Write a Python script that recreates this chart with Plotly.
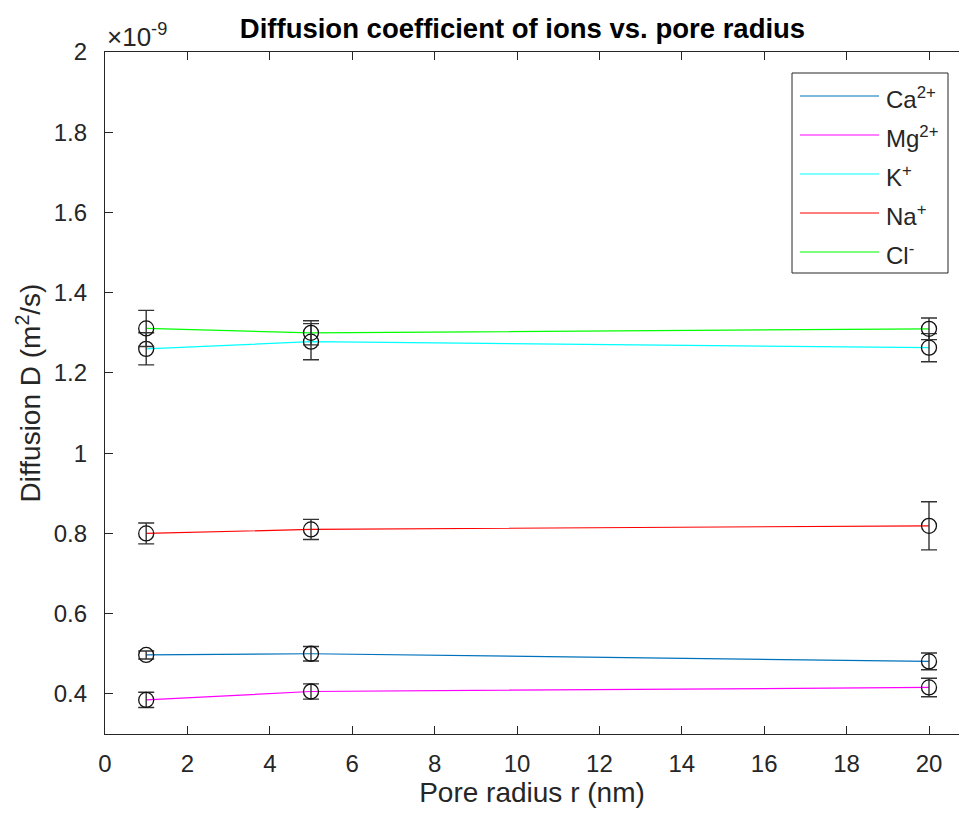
import plotly.graph_objects as go

# Pore radius (nm)
radius = [1, 5, 20]

# Diffusion coefficients, in units of 1e-9 m^2/s, with their error half-widths
ion_names = ["Ca<sup>2+</sup>", "Mg<sup>2+</sup>", "K<sup>+</sup>", "Na<sup>+</sup>", "Cl<sup>-</sup>"]
ion_colors = ["#0072BD", "#FF00FF", "#00FFFF", "#FF0000", "#00FF00"]

d_ca = [0.497, 0.500, 0.481]
d_mg = [0.385, 0.406, 0.416]
d_k = [1.260, 1.278, 1.263]
d_na = [0.800, 0.810, 0.819]
d_cl = [1.311, 1.300, 1.310]

err_ca = [0.010, 0.018, 0.021]
err_mg = [0.019, 0.019, 0.023]
err_k = [0.040, 0.045, 0.035]
err_na = [0.026, 0.025, 0.060]
err_cl = [0.045, 0.030, 0.027]

series = [d_ca, d_mg, d_k, d_na, d_cl]
errors = [err_ca, err_mg, err_k, err_na, err_cl]

y_ticks = [0.4, 0.6, 0.8, 1.0, 1.2, 1.4, 1.6, 1.8, 2.0]
y_ticktext = ["0.4", "0.6", "0.8", "1", "1.2", "1.4", "1.6", "1.8", "2"]
x_ticks = list(range(0, 21, 2))

FONT = "Liberation Sans, Arial, Helvetica, sans-serif"
AXIS_COLOR = "#262626"
TICK_SIZE = 24
LABEL_SIZE = 28

fig = go.Figure()
for name, color, ys in zip(ion_names, ion_colors, series):
    fig.add_trace(go.Scatter(
        x=radius, y=ys, name=name, mode="lines",
        line=dict(color=color, width=1.2),
        showlegend=False, hoverinfo="skip",
    ))
for name, ys, es in zip(ion_names, series, errors):
    fig.add_trace(go.Scatter(
        x=radius, y=ys, name=name, mode="markers",
        marker=dict(symbol="circle-open", size=15, color="#111111",
                    line=dict(width=1.3, color="#111111")),
        error_y=dict(type="data", array=es, visible=True,
                     color="#333333", thickness=1.4, width=8),
        showlegend=False,
    ))

W, H = 959, 815
ML, MT, MB, MR = 105, 52, 81, 0
pw, ph = W - ML - MR, H - MT - MB

def px_x(x):
    return (x - ML) / pw

def px_y(y):
    return (H - MB - y) / ph

# Legend box drawn in paper coordinates
shapes = [dict(type="rect", xref="paper", yref="paper",
               x0=px_x(792), x1=px_x(948), y0=px_y(273), y1=px_y(73),
               line=dict(color=AXIS_COLOR, width=1), fillcolor="white", layer="above")]
annotations = []
row0, row_step = 96, 39
for i, (name, color) in enumerate(zip(ion_names, ion_colors)):
    yy = row0 + i * row_step
    shapes.append(dict(type="line", xref="paper", yref="paper",
                       x0=px_x(800), x1=px_x(879), y0=px_y(yy), y1=px_y(yy),
                       line=dict(color=color, width=1.2), layer="above"))
    annotations.append(dict(xref="paper", yref="paper", x=px_x(884), y=px_y(yy + 2),
                            xanchor="left", yanchor="middle", showarrow=False,
                            text=name, font=dict(family=FONT, size=TICK_SIZE, color=AXIS_COLOR)))

annotations.append(dict(xref="paper", yref="paper", x=0, y=1, xanchor="left", yanchor="bottom",
                        xshift=0, yshift=-2, showarrow=False,
                        text="\u00d710<sup>-9</sup>",
                        font=dict(family=FONT, size=26, color=AXIS_COLOR)))

fig.update_layout(
    width=W, height=H,
    margin=dict(l=ML, r=MR, t=MT, b=MB),
    paper_bgcolor="white", plot_bgcolor="white",
    font=dict(family=FONT, size=TICK_SIZE, color=AXIS_COLOR),
    title=dict(text="<b>Diffusion coefficient of ions vs. pore radius</b>",
               x=522.5 / W, xanchor="center",
               y=1 - 28 / H, yanchor="middle",
               font=dict(family=FONT, size=27.5, color="black")),
    shapes=shapes, annotations=annotations,
    showlegend=False,
)
fig.update_xaxes(
    range=[0, pw / 41.2], tickvals=x_ticks, ticks="inside", ticklen=8, tickwidth=1.3,
    tickcolor=AXIS_COLOR, showline=True, linecolor=AXIS_COLOR, linewidth=1.3,
    mirror="ticks", showgrid=False, zeroline=False, ticklabelstandoff=8,
    tickfont=dict(family=FONT, size=TICK_SIZE, color=AXIS_COLOR),
    title=dict(text="Pore radius r (nm)", font=dict(family=FONT, size=LABEL_SIZE, color=AXIS_COLOR),
               standoff=0),
)
fig.update_yaxes(
    range=[0.3, 2.0], tickvals=y_ticks, ticktext=y_ticktext, ticks="inside", ticklen=8,
    tickwidth=1.3, tickcolor=AXIS_COLOR, showline=True, linecolor=AXIS_COLOR, linewidth=1.3,
    mirror=False, showgrid=False, zeroline=False, ticklabelstandoff=12,
    tickfont=dict(family=FONT, size=TICK_SIZE, color=AXIS_COLOR),
    title=dict(text="Diffusion D (m<sup>2</sup>/s)", font=dict(family=FONT, size=LABEL_SIZE, color=AXIS_COLOR),
               standoff=4),
)

fig.write_html("out.html")
